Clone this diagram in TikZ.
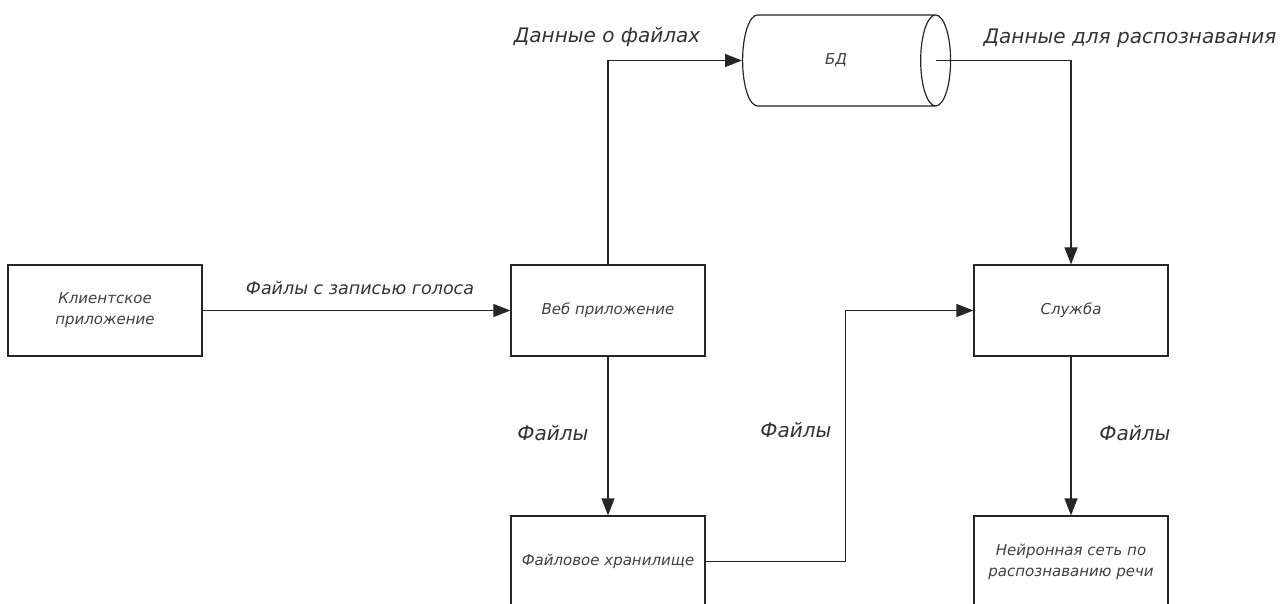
\documentclass[tikz,border=0pt]{standalone}
\usepackage{fontspec}
\setmainfont{DejaVu Sans}
\usetikzlibrary{arrows.meta, shapes.geometric}

\tikzset{
    block/.style={draw=black!85, line width=1.2pt, minimum width=194pt, minimum height=91pt,
        align=center, text=black!75, font=\fontsize{15}{21}\selectfont\itshape},
    flow/.style={draw=black!85, line width=1.2pt, -{Triangle[length=17pt, width=13pt]}},
    label/.style={text=black!80, font=\fontsize{20}{24}\selectfont\itshape},
}

\begin{document}
\begin{tikzpicture}[x=1pt, y=-1pt]
    \useasboundingbox (0,0) rectangle (1288,604);

    % blocks
    \node[block] (client) at (105,310.5) {Клиентское\\приложение};
    \node[block] (web) at (608,310.5) {Веб приложение};
    \node[block] (service) at (1071,310.5) {Служба};
    \node[block] (store) at (608,561.5) {Файловое хранилище};
    \node[block] (neural) at (1071,561.5) {Нейронная сеть по\\распознаванию речи};

    % database
    \node[cylinder, draw=black!85, line width=1.2pt, shape aspect=1.5, anchor=west,
        minimum width=91pt, minimum height=208pt, text=black!75,
        font=\fontsize{15}{18}\selectfont\itshape] (db) at (742,60.5) {БД};
    \coordinate (dbout) at (936,60.5);

    % connectors
    \draw[flow] (client.east) -- (web.west);
    \draw[flow] (web.north) |- (db.west);
    \draw[flow] (dbout) -| (service.north);
    \draw[flow] (web.south) -- (store.north);
    \draw[flow] (store.east) -- ++(140,0) |- (service.west);
    \draw[flow] (service.south) -- (neural.north);

    % labels
    \node[label, font=\fontsize{17.5}{20}\selectfont\itshape] (lblvoice) at (360,288) {Файлы с записью голоса};
    \node[label] (lblmeta) at (607,37) {Данные о файлах};
    \node[label] (lblrec) at (1130,38) {Данные для распознавания};
    \node[label] (lblf1) at (553,433) {Файлы};
    \node[label] (lblf2) at (796,430) {Файлы};
    \node[label] (lblf3) at (1135,433) {Файлы};
\end{tikzpicture}
\end{document}
